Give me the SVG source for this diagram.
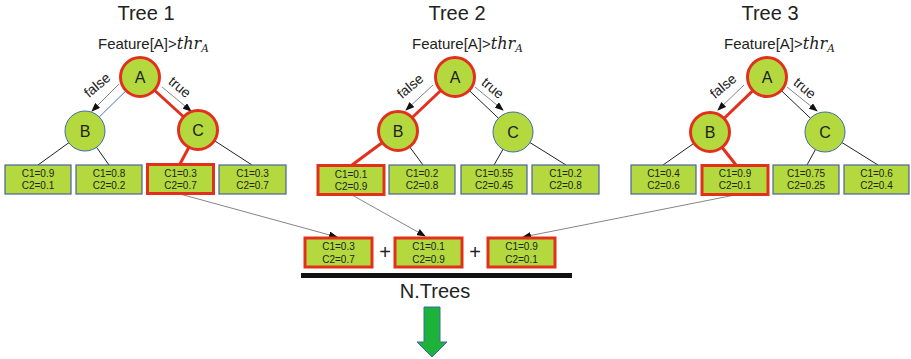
<svg xmlns="http://www.w3.org/2000/svg" width="911" height="359" viewBox="0 0 911 359">
<style>
.bg{fill:#ffffff}
.leaf{fill:#b3d93e;stroke:#4a62a0;stroke-width:1.2}
.hl{stroke:#e3301d;stroke-width:3}
.node{fill:#b3d93e;stroke:#3f6ab0;stroke-width:1}
.nodehl{fill:#b3d93e;stroke:#e3301d;stroke-width:3}
.lt{font-family:"Liberation Sans",Arial,sans-serif;font-size:10px;fill:#222;text-anchor:middle}
.nl{font-family:"Liberation Sans",Arial,sans-serif;font-size:16px;fill:#222;text-anchor:middle}
.title{font-family:"Liberation Sans",Arial,sans-serif;font-size:20px;fill:#222;text-anchor:middle}
.feat{font-family:"Liberation Sans",Arial,sans-serif;font-size:15px;fill:#222}
.math{font-family:"DejaVu Serif",serif;font-style:italic}
.tf{font-family:"Liberation Sans",Arial,sans-serif;font-size:14px;fill:#222;text-anchor:middle}
.e{stroke:#222;stroke-width:1}
.eb{stroke:#4472c4;stroke-width:1}
.er{stroke:#e3301d;stroke-width:3}
.arr{stroke:#666;stroke-width:0.8;fill:none;marker-end:url(#ah)}
</style>
<defs>
<marker id="ah" markerUnits="userSpaceOnUse" markerWidth="9" markerHeight="7" refX="8" refY="3.5" orient="auto">
<path d="M0,0 L9,3.5 L0,7 z" fill="#111"/>
</marker>
</defs>
<rect class="bg" x="0" y="0" width="911" height="359"/>

<g id="connectors">
<line class="eb" x1="140" y1="77" x2="85" y2="131"/>
<line class="er" x1="140" y1="77" x2="198" y2="130"/>
<line class="e" x1="85" y1="131" x2="38" y2="165"/>
<line class="e" x1="85" y1="131" x2="109" y2="165"/>
<line class="er" x1="198" y1="130" x2="180" y2="164"/>
<line class="e" x1="198" y1="130" x2="252" y2="165"/>
<line class="arr" x1="119" y1="84" x2="92" y2="111"/>
<line class="arr" x1="162" y1="87" x2="191" y2="111"/>
<line class="er" x1="455" y1="77" x2="398" y2="131"/>
<line class="e" x1="455" y1="77" x2="513" y2="132"/>
<line class="er" x1="398" y1="131" x2="352" y2="165"/>
<line class="e" x1="398" y1="131" x2="423" y2="165"/>
<line class="e" x1="513" y1="132" x2="494" y2="165"/>
<line class="e" x1="513" y1="132" x2="566" y2="165"/>
<line class="arr" x1="433" y1="85" x2="406" y2="110"/>
<line class="arr" x1="475" y1="87" x2="503" y2="110"/>
<line class="er" x1="767" y1="77" x2="710" y2="132"/>
<line class="e" x1="767" y1="77" x2="825" y2="132"/>
<line class="e" x1="710" y1="132" x2="663" y2="165"/>
<line class="er" x1="710" y1="132" x2="736" y2="165"/>
<line class="e" x1="825" y1="132" x2="807" y2="165"/>
<line class="e" x1="825" y1="132" x2="878" y2="165"/>
<line class="arr" x1="744" y1="85" x2="718" y2="110"/>
<line class="arr" x1="787" y1="87" x2="817" y2="111"/>
<line class="arr" x1="180" y1="194" x2="337" y2="237"/>
<line class="arr" x1="352" y1="195" x2="425" y2="236"/>
<line class="arr" x1="735" y1="195" x2="523" y2="237"/>
</g>

<g id="labels">
<text class="title" x="146" y="20">Tree 1</text>
<text class="title" x="457" y="20">Tree 2</text>
<text class="title" x="770" y="20">Tree 3</text>
<text class="feat" x="98" y="49">Feature[A]&gt;<tspan class="math" font-size="16">thr</tspan><tspan class="math" font-size="10.5" dy="3">A</tspan></text>
<text class="feat" x="412" y="49">Feature[A]&gt;<tspan class="math" font-size="16">thr</tspan><tspan class="math" font-size="10.5" dy="3">A</tspan></text>
<text class="feat" x="724" y="49">Feature[A]&gt;<tspan class="math" font-size="16">thr</tspan><tspan class="math" font-size="10.5" dy="3">A</tspan></text>
<text class="tf" transform="translate(97,85) rotate(-40)" y="5">false</text>
<text class="tf" transform="translate(180,87) rotate(40)" y="5">true</text>
<text class="tf" transform="translate(410,86) rotate(-40)" y="5">false</text>
<text class="tf" transform="translate(493,88) rotate(40)" y="5">true</text>
<text class="tf" transform="translate(723,86) rotate(-40)" y="5">false</text>
<text class="tf" transform="translate(805,88) rotate(40)" y="5">true</text>
</g>

<g id="t1A"><circle class="nodehl" cx="140" cy="77" r="19.5"/><text class="nl" x="140" y="83">A</text></g>
<g id="t1B"><circle class="node" cx="85" cy="131" r="20"/><text class="nl" x="85" y="137">B</text></g>
<g id="t1C"><circle class="nodehl" cx="198" cy="130" r="19.5"/><text class="nl" x="198" y="136">C</text></g>
<g id="t1L1"><rect class="leaf" x="5" y="165" width="66" height="29"/><text class="lt" x="38" y="177">C1=0.9</text><text class="lt" x="38" y="189">C2=0.1</text></g>
<g id="t1L2"><rect class="leaf" x="76" y="165" width="66" height="29"/><text class="lt" x="109" y="177">C1=0.8</text><text class="lt" x="109" y="189">C2=0.2</text></g>
<g id="t1L3"><rect class="leaf hl" x="147.5" y="164.5" width="66" height="29"/><text class="lt" x="180.5" y="177">C1=0.3</text><text class="lt" x="180.5" y="189">C2=0.7</text></g>
<g id="t1L4"><rect class="leaf" x="219" y="165" width="67" height="29"/><text class="lt" x="252.5" y="177">C1=0.3</text><text class="lt" x="252.5" y="189">C2=0.7</text></g>

<g id="t2A"><circle class="nodehl" cx="455" cy="77" r="19.5"/><text class="nl" x="455" y="83">A</text></g>
<g id="t2B"><circle class="nodehl" cx="398" cy="131" r="19.5"/><text class="nl" x="398" y="137">B</text></g>
<g id="t2C"><circle class="node" cx="513" cy="132" r="20"/><text class="nl" x="513" y="138">C</text></g>
<g id="t2L1"><rect class="leaf hl" x="318" y="165.5" width="66" height="29"/><text class="lt" x="351" y="178">C1=0.1</text><text class="lt" x="351" y="190">C2=0.9</text></g>
<g id="t2L2"><rect class="leaf" x="389" y="165" width="66" height="29"/><text class="lt" x="422" y="177">C1=0.2</text><text class="lt" x="422" y="189">C2=0.8</text></g>
<g id="t2L3"><rect class="leaf" x="461" y="165" width="66" height="29"/><text class="lt" x="494" y="177">C1=0.55</text><text class="lt" x="494" y="189">C2=0.45</text></g>
<g id="t2L4"><rect class="leaf" x="532" y="165" width="67" height="29"/><text class="lt" x="565.5" y="177">C1=0.2</text><text class="lt" x="565.5" y="189">C2=0.8</text></g>

<g id="t3A"><circle class="nodehl" cx="767" cy="77" r="19.5"/><text class="nl" x="767" y="83">A</text></g>
<g id="t3B"><circle class="nodehl" cx="710" cy="132" r="19.5"/><text class="nl" x="710" y="138">B</text></g>
<g id="t3C"><circle class="node" cx="825" cy="132" r="20"/><text class="nl" x="825" y="138">C</text></g>
<g id="t3L1"><rect class="leaf" x="631" y="165" width="65" height="29"/><text class="lt" x="663.5" y="177">C1=0.4</text><text class="lt" x="663.5" y="189">C2=0.6</text></g>
<g id="t3L2"><rect class="leaf hl" x="702" y="165.5" width="66" height="29"/><text class="lt" x="735" y="177">C1=0.9</text><text class="lt" x="735" y="189">C2=0.1</text></g>
<g id="t3L3"><rect class="leaf" x="773" y="165" width="66" height="29"/><text class="lt" x="806" y="177">C1=0.75</text><text class="lt" x="806" y="189">C2=0.25</text></g>
<g id="t3L4"><rect class="leaf" x="844" y="165" width="65" height="29"/><text class="lt" x="876.5" y="177">C1=0.6</text><text class="lt" x="876.5" y="189">C2=0.4</text></g>

<g id="s1"><rect class="leaf hl" x="305" y="238" width="67" height="29"/><text class="lt" x="338.5" y="250">C1=0.3</text><text class="lt" x="338.5" y="263">C2=0.7</text></g>
<g id="s2"><rect class="leaf hl" x="395" y="238" width="67" height="29"/><text class="lt" x="428.5" y="250">C1=0.1</text><text class="lt" x="428.5" y="263">C2=0.9</text></g>
<g id="s3"><rect class="leaf hl" x="488" y="238" width="67" height="29"/><text class="lt" x="521.5" y="250">C1=0.9</text><text class="lt" x="521.5" y="263">C2=0.1</text></g>
<text class="title" x="385" y="259">+</text>
<text class="title" x="475" y="259">+</text>
<rect x="301" y="273" width="271" height="5" fill="#111"/>
<text class="title" x="435" y="298" font-size="18">N.Trees</text>
<g id="arrowDown"><polygon points="424,307 440,307 440,342 447,342 432,357 417,342 424,342" fill="#1db33a" stroke="#3d6aa8" stroke-width="1"/></g>
</svg>
